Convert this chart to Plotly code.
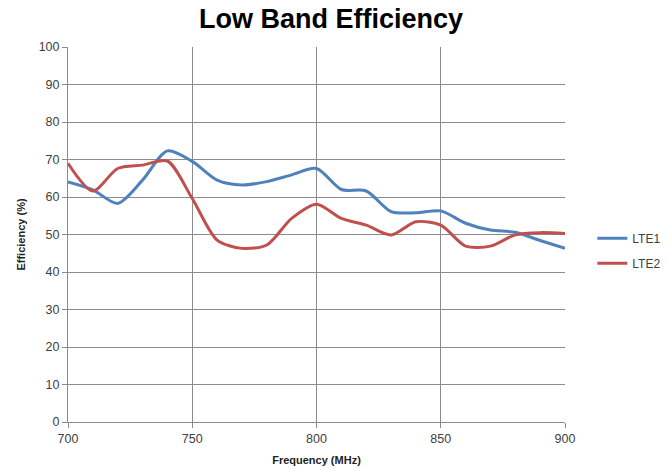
import plotly.graph_objects as go

freq = [700, 710, 720, 730, 740, 750, 760, 770, 780, 790, 800, 810, 820, 830, 840, 850, 860, 870, 880, 890, 900]
lte1 = [64.0, 61.9, 58.3, 64.5, 72.3, 69.5, 64.5, 63.2, 64.1, 65.9, 67.6, 62.0, 61.6, 56.1, 55.8, 56.3, 53.0, 51.2, 50.6, 48.4, 46.3]
lte2 = [69.0, 61.6, 67.6, 68.5, 69.6, 59.6, 48.5, 46.3, 47.2, 54.3, 58.1, 54.3, 52.5, 49.9, 53.4, 52.5, 46.9, 46.9, 49.9, 50.5, 50.3]
series_names = ["LTE1", "LTE2"]
colors = ["#4F81BD", "#C0504D"]

fig = go.Figure()
for name, ys, c in zip(series_names, [lte1, lte2], colors):
    fig.add_trace(go.Scatter(x=freq, y=ys, mode="lines", name=name, legendgroup=name,
                             line=dict(color=c, width=3, shape="spline", smoothing=0.8)))

fam = "Liberation Sans, Arial, sans-serif"
axis_font = dict(family=fam, size=12.5, color="#404040")
W = 700
fig.update_layout(
    width=W, height=471,
    margin=dict(l=68, r=W - 68 - 497, t=47, b=49),
    paper_bgcolor="white", plot_bgcolor="white",
    title=dict(text="<b>Low Band Efficiency</b>", x=331 / W, xanchor="center", y=0.960, yanchor="middle",
               font=dict(family=fam, size=27, color="black")),
    xaxis=dict(range=[700, 900], tickvals=[700, 750, 800, 850, 900], showgrid=True, automargin=False,
               gridcolor="#8c8c8c", gridwidth=1, showline=True, linecolor="#8c8c8c",
               ticks="outside", ticklen=5, tickcolor="#8c8c8c", tickfont=axis_font, zeroline=False,
               title=dict(text="<b>Frequency (MHz)</b>", standoff=11,
                          font=dict(family=fam, size=11, color="#222"))),
    yaxis=dict(range=[0, 100], dtick=10, showgrid=True, gridcolor="#8c8c8c", gridwidth=1, automargin=False,
               showline=True, linecolor="#8c8c8c", ticks="outside", ticklen=5, tickcolor="#8c8c8c",
               tickfont=axis_font, zeroline=False,
               title=dict(text="<b>Efficiency (%)</b>", standoff=10,
                          font=dict(family=fam, size=11, color="#222"))),
    legend=dict(x=1.055, y=0.457, xanchor="left", yanchor="middle", bgcolor="rgba(0,0,0,0)",
                font=dict(family=fam, size=12, color="#404040"), tracegroupgap=6),
    showlegend=True,
)

fig.write_html("out.html", config={"displayModeBar": False},
               post_script="document.body.style.margin='0';document.body.style.overflow='hidden';")
